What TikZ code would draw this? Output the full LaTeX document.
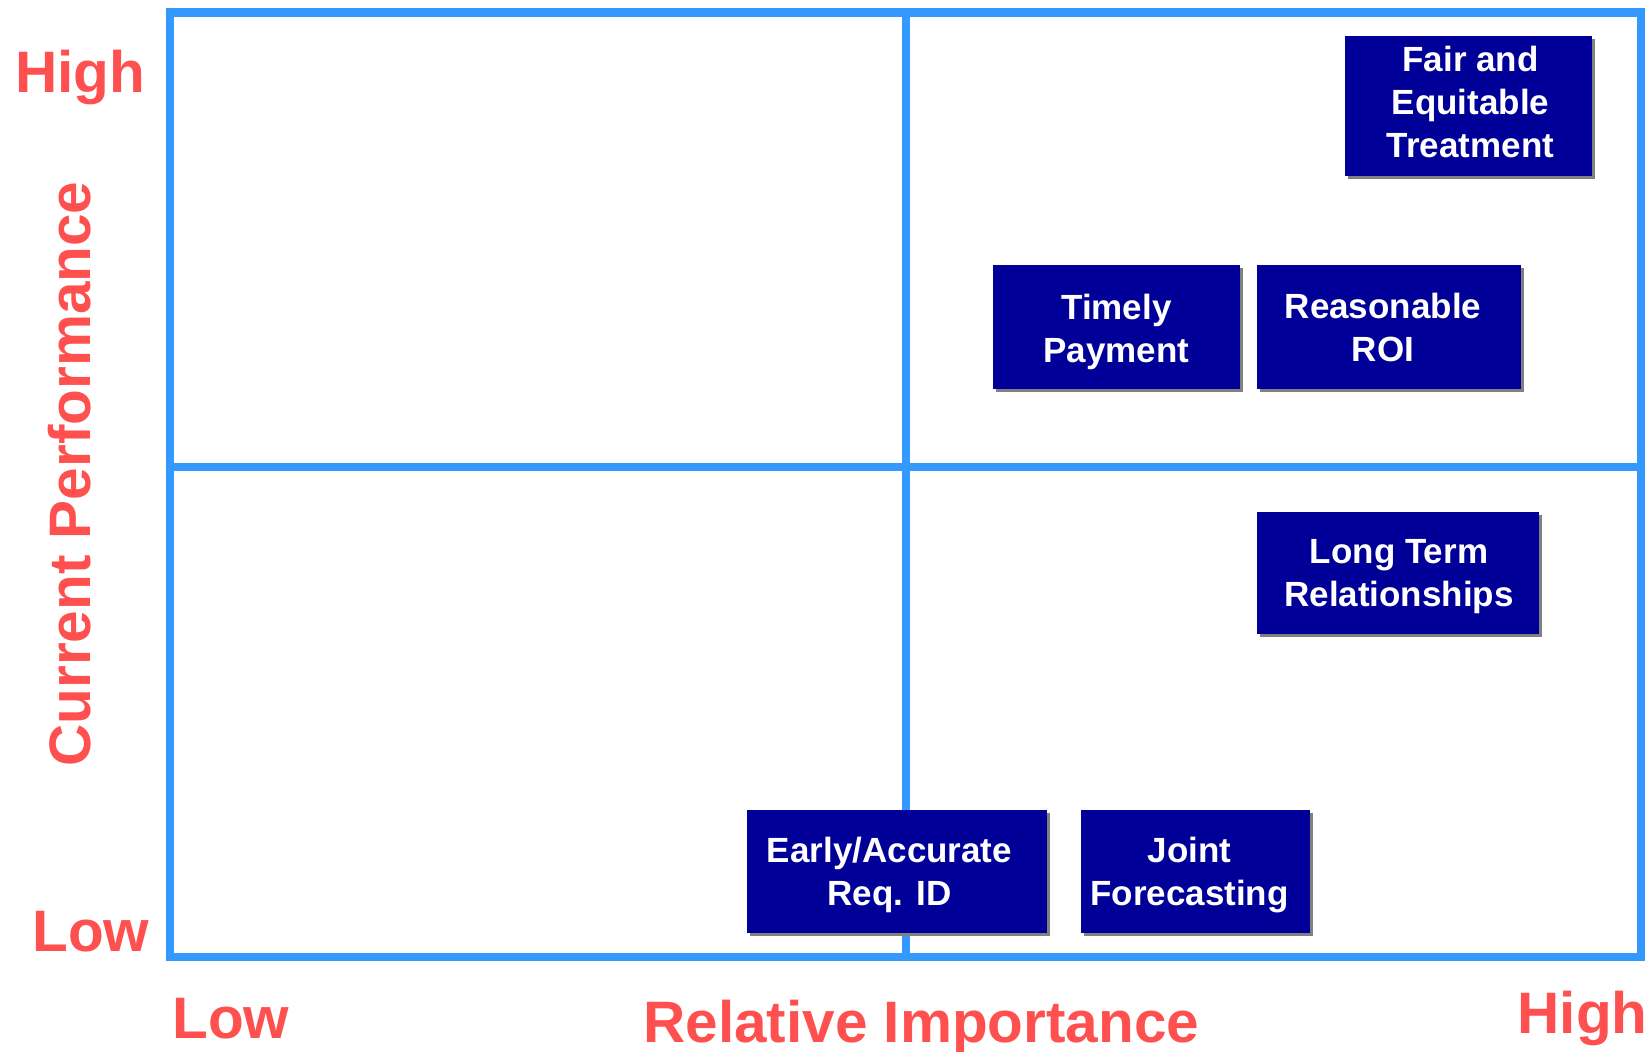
\documentclass[tikz,border=0pt]{standalone}
\usepackage{fontspec}
\setmainfont{Liberation Sans}
\usetikzlibrary{shadows}
\definecolor{gridblue}{HTML}{3399FF}
\definecolor{axisred}{HTML}{FF5050}
\definecolor{boxnavy}{HTML}{000099}
\definecolor{shadowgray}{HTML}{808080}
\begin{document}
\begin{tikzpicture}[x=0.5pt,y=-0.5pt,
  frame/.style={draw=gridblue,line width=4.25pt},
  axislabel/.style={text=axisred,font=\fontsize{29.25}{34}\selectfont\bfseries,inner sep=0pt},
  factorbox/.style={fill=boxnavy,inner sep=0pt,
    drop shadow={shadow xshift=1.5pt,shadow yshift=-1.5pt,fill=shadowgray,opacity=1}},
  factortext/.style={text=white,align=center,inner sep=0pt,
    font=\fontsize{17.5}{21.5}\selectfont\bfseries}]
\useasboundingbox (0,0) rectangle (1652,1051);
\fill[white] (0,0) rectangle (1652,1051);

% quadrant grid
\draw[frame] (170,12.5) rectangle (1641,957);
\draw[frame] (906,12.5) -- (906,957);
\draw[frame] (170,467) -- (1641,467);

% axis labels
\node[axislabel,anchor=base west] (yhigh) at (15,92) {High};
\node[axislabel,anchor=base west] (ylow) at (32,951) {Low};
\node[axislabel,anchor=base,rotate=90] (ytitle) at (90,474) {Current Performance};
\node[axislabel,anchor=base west] (xlow) at (172,1038) {Low};
\node[axislabel,anchor=base west] (xtitle) at (643,1042) {Relative Importance};
\node[axislabel,anchor=base east] (xhigh) at (1648,1033) {High};

% factor boxes
\node[factorbox,minimum width=123.5pt,minimum height=70pt] (fairbox) at (1468.5,106) {};
\node[factorbox,minimum width=123.5pt,minimum height=62pt] (timelybox) at (1116.5,327) {};
\node[factorbox,minimum width=132pt,minimum height=62pt] (roibox) at (1389,327) {};
\node[factorbox,minimum width=141pt,minimum height=61pt] (longtermbox) at (1398,573) {};
\node[factorbox,minimum width=150pt,minimum height=61.5pt] (earlybox) at (896.5,871.5) {};
\node[factorbox,minimum width=114.5pt,minimum height=61.5pt] (jointbox) at (1195.5,871.5) {};

% factor captions
\node[factortext] (fair) at ([shift={(2,-4)}]fairbox.center) {Fair and\\Equitable\\Treatment};
\node[factortext] (timely) at ([shift={(0,5)}]timelybox.center) {Timely\\Payment};
\node[factortext] (roi) at ([shift={(-6,0)}]roibox.center) {Reasonable\\ROI};
\node[factortext] (longterm) at ([shift={(1,4)}]longtermbox.center) {Long Term\\Relationships};
\node[factortext] (early) at ([shift={(-7,3)}]earlybox.center) {Early/Accurate\\Req. ID};
\node[factortext] (joint) at ([shift={(-6,4)}]jointbox.center) {Joint\\Forecasting};
\end{tikzpicture}
\end{document}
